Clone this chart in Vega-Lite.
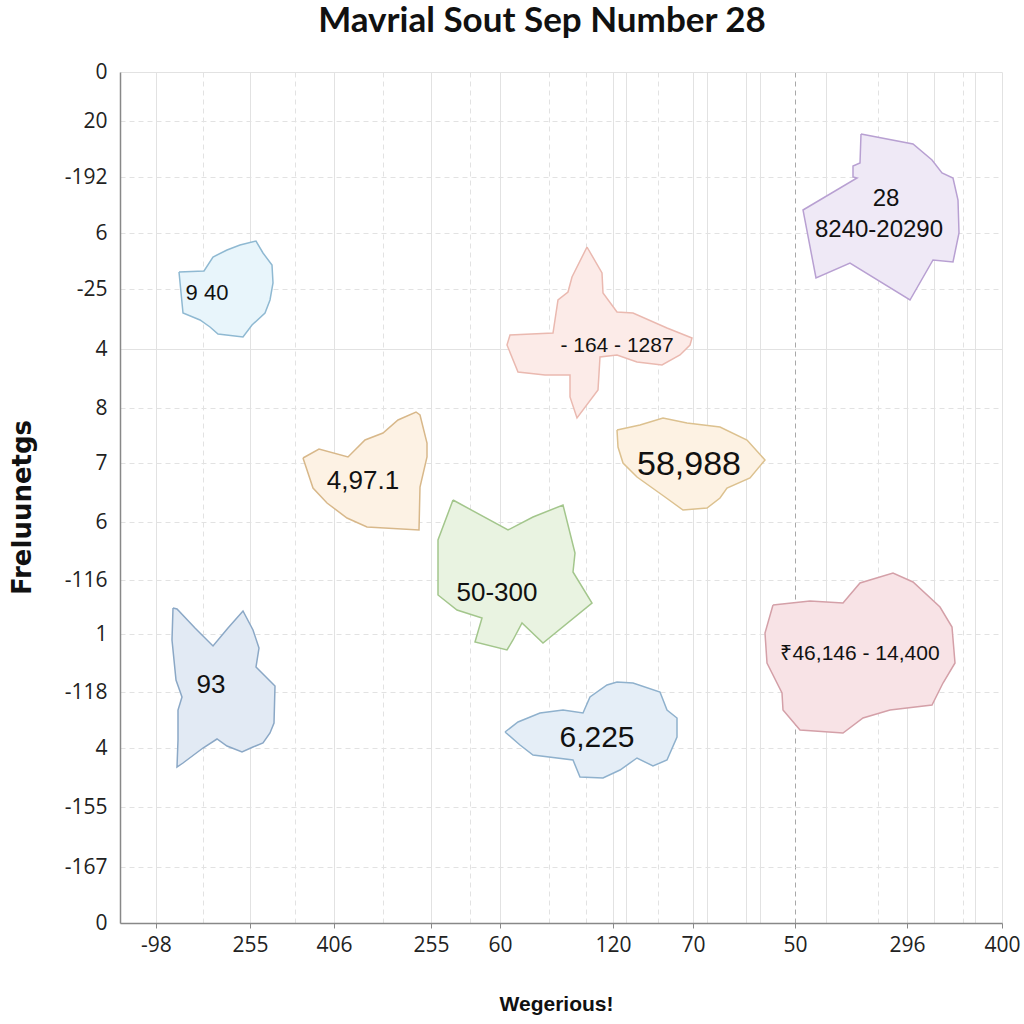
{
"$schema":"https://vega.github.io/schema/vega-lite/v6.json",
"width":882,"height":851,
"autosize":{"type":"none"},
"padding":{"left":120,"top":72,"right":22,"bottom":101},
"background":"white",
"config":{"view":{"stroke":null}},
"title":{"text":"Mavrial Sout Sep Number 28","font":"Lato","fontSize":35,"fontWeight":"bold","color":"#111","anchor":"middle","dx":-19,"offset":-6,"baseline":"alphabetic"},
"datasets":{
"poly":[
{"s":"A","i":0,"x":179,"y":272},{"s":"A","i":1,"x":204,"y":271},{"s":"A","i":2,"x":213,"y":257},{"s":"A","i":3,"x":227,"y":250},{"s":"A","i":4,"x":240,"y":245},{"s":"A","i":5,"x":256,"y":241},{"s":"A","i":6,"x":263,"y":253},{"s":"A","i":7,"x":272,"y":265},{"s":"A","i":8,"x":273,"y":283},{"s":"A","i":9,"x":270,"y":300},{"s":"A","i":10,"x":265,"y":313},{"s":"A","i":11,"x":252,"y":325},{"s":"A","i":12,"x":243,"y":337},{"s":"A","i":13,"x":218,"y":334},{"s":"A","i":14,"x":210,"y":327},{"s":"A","i":15,"x":200,"y":320},{"s":"A","i":16,"x":183,"y":313},{"s":"A","i":17,"x":179,"y":272},
{"s":"B","i":0,"x":173,"y":608},{"s":"B","i":1,"x":177,"y":609},{"s":"B","i":2,"x":195,"y":628},{"s":"B","i":3,"x":213,"y":646},{"s":"B","i":4,"x":228,"y":628},{"s":"B","i":5,"x":243,"y":611},{"s":"B","i":6,"x":253,"y":630},{"s":"B","i":7,"x":259,"y":648},{"s":"B","i":8,"x":256,"y":667},{"s":"B","i":9,"x":266,"y":677},{"s":"B","i":10,"x":275,"y":686},{"s":"B","i":11,"x":274,"y":723},{"s":"B","i":12,"x":270,"y":733},{"s":"B","i":13,"x":263,"y":743},{"s":"B","i":14,"x":253,"y":747},{"s":"B","i":15,"x":242,"y":752},{"s":"B","i":16,"x":227,"y":746},{"s":"B","i":17,"x":217,"y":739},{"s":"B","i":18,"x":203,"y":748},{"s":"B","i":19,"x":183,"y":763},{"s":"B","i":20,"x":177,"y":767},{"s":"B","i":21,"x":178,"y":740},{"s":"B","i":22,"x":178,"y":710},{"s":"B","i":23,"x":182,"y":697},{"s":"B","i":24,"x":176,"y":680},{"s":"B","i":25,"x":172,"y":640},{"s":"B","i":26,"x":173,"y":608},
{"s":"C","i":0,"x":303,"y":458},{"s":"C","i":1,"x":319,"y":449},{"s":"C","i":2,"x":348,"y":457},{"s":"C","i":3,"x":365,"y":440},{"s":"C","i":4,"x":383,"y":433},{"s":"C","i":5,"x":398,"y":420},{"s":"C","i":6,"x":416,"y":412},{"s":"C","i":7,"x":420,"y":415},{"s":"C","i":8,"x":427,"y":443},{"s":"C","i":9,"x":427,"y":457},{"s":"C","i":10,"x":420,"y":487},{"s":"C","i":11,"x":419,"y":530},{"s":"C","i":12,"x":367,"y":527},{"s":"C","i":13,"x":347,"y":518},{"s":"C","i":14,"x":327,"y":503},{"s":"C","i":15,"x":313,"y":488},{"s":"C","i":16,"x":303,"y":458},
{"s":"D","i":0,"x":453,"y":500},{"s":"D","i":1,"x":508,"y":530},{"s":"D","i":2,"x":533,"y":517},{"s":"D","i":3,"x":563,"y":505},{"s":"D","i":4,"x":575,"y":553},{"s":"D","i":5,"x":573,"y":572},{"s":"D","i":6,"x":592,"y":603},{"s":"D","i":7,"x":543,"y":643},{"s":"D","i":8,"x":522,"y":623},{"s":"D","i":9,"x":513,"y":640},{"s":"D","i":10,"x":507,"y":650},{"s":"D","i":11,"x":475,"y":642},{"s":"D","i":12,"x":482,"y":618},{"s":"D","i":13,"x":457,"y":610},{"s":"D","i":14,"x":438,"y":595},{"s":"D","i":15,"x":438,"y":540},{"s":"D","i":16,"x":453,"y":500},
{"s":"E","i":0,"x":587,"y":247},{"s":"E","i":1,"x":602,"y":273},{"s":"E","i":2,"x":603,"y":293},{"s":"E","i":3,"x":617,"y":312},{"s":"E","i":4,"x":633,"y":313},{"s":"E","i":5,"x":667,"y":328},{"s":"E","i":6,"x":692,"y":338},{"s":"E","i":7,"x":690,"y":345},{"s":"E","i":8,"x":680,"y":355},{"s":"E","i":9,"x":662,"y":365},{"s":"E","i":10,"x":637,"y":362},{"s":"E","i":11,"x":617,"y":355},{"s":"E","i":12,"x":600,"y":357},{"s":"E","i":13,"x":598,"y":390},{"s":"E","i":14,"x":577,"y":418},{"s":"E","i":15,"x":570,"y":397},{"s":"E","i":16,"x":570,"y":375},{"s":"E","i":17,"x":545,"y":375},{"s":"E","i":18,"x":518,"y":372},{"s":"E","i":19,"x":507,"y":345},{"s":"E","i":20,"x":510,"y":335},{"s":"E","i":21,"x":553,"y":333},{"s":"E","i":22,"x":558,"y":300},{"s":"E","i":23,"x":568,"y":292},{"s":"E","i":24,"x":572,"y":277},{"s":"E","i":25,"x":587,"y":247},
{"s":"F","i":0,"x":617,"y":430},{"s":"F","i":1,"x":640,"y":425},{"s":"F","i":2,"x":663,"y":418},{"s":"F","i":3,"x":687,"y":423},{"s":"F","i":4,"x":720,"y":427},{"s":"F","i":5,"x":747,"y":440},{"s":"F","i":6,"x":765,"y":460},{"s":"F","i":7,"x":750,"y":478},{"s":"F","i":8,"x":727,"y":488},{"s":"F","i":9,"x":720,"y":498},{"s":"F","i":10,"x":707,"y":508},{"s":"F","i":11,"x":683,"y":510},{"s":"F","i":12,"x":665,"y":497},{"s":"F","i":13,"x":637,"y":477},{"s":"F","i":14,"x":623,"y":463},{"s":"F","i":15,"x":618,"y":447},{"s":"F","i":16,"x":617,"y":430},
{"s":"G","i":0,"x":861,"y":134},{"s":"G","i":1,"x":913,"y":144},{"s":"G","i":2,"x":932,"y":160},{"s":"G","i":3,"x":942,"y":173},{"s":"G","i":4,"x":953,"y":178},{"s":"G","i":5,"x":958,"y":200},{"s":"G","i":6,"x":959,"y":233},{"s":"G","i":7,"x":953,"y":262},{"s":"G","i":8,"x":933,"y":260},{"s":"G","i":9,"x":910,"y":300},{"s":"G","i":10,"x":850,"y":263},{"s":"G","i":11,"x":816,"y":278},{"s":"G","i":12,"x":803,"y":210},{"s":"G","i":13,"x":857,"y":178},{"s":"G","i":14,"x":853,"y":177},{"s":"G","i":15,"x":853,"y":166},{"s":"G","i":16,"x":860,"y":163},{"s":"G","i":17,"x":861,"y":134},
{"s":"H","i":0,"x":773,"y":605},{"s":"H","i":1,"x":810,"y":601},{"s":"H","i":2,"x":843,"y":603},{"s":"H","i":3,"x":860,"y":583},{"s":"H","i":4,"x":893,"y":573},{"s":"H","i":5,"x":913,"y":582},{"s":"H","i":6,"x":940,"y":607},{"s":"H","i":7,"x":952,"y":627},{"s":"H","i":8,"x":955,"y":663},{"s":"H","i":9,"x":943,"y":683},{"s":"H","i":10,"x":932,"y":705},{"s":"H","i":11,"x":890,"y":710},{"s":"H","i":12,"x":863,"y":718},{"s":"H","i":13,"x":843,"y":733},{"s":"H","i":14,"x":800,"y":730},{"s":"H","i":15,"x":783,"y":710},{"s":"H","i":16,"x":782,"y":693},{"s":"H","i":17,"x":767,"y":663},{"s":"H","i":18,"x":765,"y":633},{"s":"H","i":19,"x":773,"y":605},
{"s":"I","i":0,"x":505,"y":732},{"s":"I","i":1,"x":518,"y":722},{"s":"I","i":2,"x":540,"y":713},{"s":"I","i":3,"x":563,"y":710},{"s":"I","i":4,"x":583,"y":713},{"s":"I","i":5,"x":590,"y":697},{"s":"I","i":6,"x":607,"y":685},{"s":"I","i":7,"x":617,"y":682},{"s":"I","i":8,"x":633,"y":683},{"s":"I","i":9,"x":660,"y":692},{"s":"I","i":10,"x":667,"y":710},{"s":"I","i":11,"x":677,"y":718},{"s":"I","i":12,"x":677,"y":737},{"s":"I","i":13,"x":667,"y":760},{"s":"I","i":14,"x":653,"y":766},{"s":"I","i":15,"x":637,"y":758},{"s":"I","i":16,"x":620,"y":770},{"s":"I","i":17,"x":603,"y":778},{"s":"I","i":18,"x":580,"y":777},{"s":"I","i":19,"x":573,"y":760},{"s":"I","i":20,"x":533,"y":755},{"s":"I","i":21,"x":520,"y":745},{"s":"I","i":22,"x":505,"y":732}
],
"labels":[
{"s":"A","t":"9 40","x":207,"y":300},
{"s":"B","t":"93","x":211,"y":693},
{"s":"C","t":"4,97.1","x":363,"y":489},
{"s":"D","t":"50-300","x":497,"y":601},
{"s":"E","t":"- 164 - 1287","x":617,"y":352},
{"s":"F","t":"58,988","x":689,"y":475},
{"s":"G","t":"28","x":886,"y":206},
{"s":"G","t":"8240-20290","x":879,"y":237},
{"s":"H","t":"₹46,146 - 14,400","x":860,"y":660},
{"s":"I","t":"6,225","x":597,"y":747}
]},
"encoding":{
"x":{"field":"x","type":"quantitative","scale":{"domain":[120,1002],"nice":false,"zero":false},
 "axis":{"values":[156,203,250,295,334,383,431,470,500,549,586,613,626,658,693,707,746,760,795,826,878,907,934,963,975,1002],
 "labelExpr":"indexof([156,250,334,431,500,613,693,795,907,1002], datum.value) >= 0 ? ['-98','255','406','255','60','120','70','50','296','400'][indexof([156,250,334,431,500,613,693,795,907,1002], datum.value)] : ''",
 "labelFont":"Open Sans","labelFontSize":21,"labelColor":"#222","labelPadding":6,"labelOverlap":false,"labelFlush":false,"labelBound":false,
 "tickSize":5,"tickColor":"#888","tickWidth":1,
 "tickOpacity":{"condition":{"test":"indexof([156,250,334,431,500,613,693,795,907,1002], datum.value) < 0","value":0},"value":1},
 "domainColor":"#888","domainWidth":1.5,
 "grid":true,
 "gridColor":{"condition":{"test":"datum.value == 795","value":"#a8a8a8"},"value":"#e2e2e2"},
 "gridDash":{"condition":{"test":"indexof([203,295,383,470,549,586,658,795,878,963], datum.value) >= 0","value":[5,4]},"value":[]},
 "title":"Wegerious!","titleFont":"Liberation Sans","titleFontSize":21,"titleFontWeight":"bold","titleColor":"#111","titleX":436,"titleY":87,"titleBaseline":"alphabetic","titleAlign":"center"}},
"y":{"field":"y","type":"quantitative","scale":{"domain":[72,923],"reverse":true,"nice":false,"zero":false},
 "axis":{"values":[72,121,177,233,289,349,408,463,522,580,634,692,748,807,867,923],
 "labelExpr":"['0','20','-192','6','-25','4','8','7','6','-116','1','-118','4','-155','-167','0'][indexof([72,121,177,233,289,349,408,463,522,580,634,692,748,807,867,923], datum.value)]",
 "labelFont":"Open Sans","labelFontSize":21,"labelColor":"#222","labelPadding":13,"labelOverlap":false,"labelFlush":false,"labelBound":false,
 "ticks":false,"tickSize":0,
 "domainColor":"#888","domainWidth":1.5,
 "grid":true,"gridColor":"#e2e2e2",
 "gridDash":{"condition":{"test":"datum.value == 72 || datum.value == 349","value":[]},"value":[5,4]},
 "title":"Freluunetgs","titleFont":"DejaVu Sans","titleFontSize":26,"titleFontWeight":"bold","titleColor":"#111","titleX":-90,"titleY":435,"titleBaseline":"alphabetic","titleAlign":"center","titleAngle":-90}}
},
"layer":[
{"data":{"name":"poly"},"mark":{"type":"line","strokeWidth":1.5,"interpolate":"linear"},
 "encoding":{"detail":{"field":"s"},"order":{"field":"i","type":"quantitative"},
 "fill":{"field":"s","type":"nominal","scale":{"domain":["A","B","C","D","E","F","G","H","I"],"range":["#e8f5fb","#e2eaf4","#fdf2e4","#e9f3e1","#fcebe8","#fdf2e3","#efe9f6","#f8e3e6","#e5eef7"]},"legend":null},
 "stroke":{"field":"s","type":"nominal","scale":{"domain":["A","B","C","D","E","F","G","H","I"],"range":["#8fb9d2","#8ba8c6","#d8b88a","#a3c68c","#eab9b0","#dcc18f","#b8a0d2","#d4a0a8","#8fb1cd"]},"legend":null}}},
{"data":{"name":"labels"},"transform":[{"filter":{"field":"s","oneOf":["E","H"]}}],"mark":{"type":"text","font":"Liberation Sans","fontSize":21,"color":"#111","align":"center","baseline":"alphabetic"},"encoding":{"text":{"field":"t"}}},
{"data":{"name":"labels"},"transform":[{"filter":{"field":"s","oneOf":["A"]}}],"mark":{"type":"text","font":"Liberation Sans","fontSize":22,"color":"#111","align":"center","baseline":"alphabetic"},"encoding":{"text":{"field":"t"}}},
{"data":{"name":"labels"},"transform":[{"filter":{"field":"s","oneOf":["G"]}}],"mark":{"type":"text","font":"Liberation Sans","fontSize":24,"color":"#111","align":"center","baseline":"alphabetic"},"encoding":{"text":{"field":"t"}}},
{"data":{"name":"labels"},"transform":[{"filter":{"field":"s","oneOf":["B","C","D"]}}],"mark":{"type":"text","font":"Liberation Sans","fontSize":26,"color":"#111","align":"center","baseline":"alphabetic"},"encoding":{"text":{"field":"t"}}},
{"data":{"name":"labels"},"transform":[{"filter":{"field":"s","oneOf":["I"]}}],"mark":{"type":"text","font":"Liberation Sans","fontSize":30,"color":"#111","align":"center","baseline":"alphabetic"},"encoding":{"text":{"field":"t"}}},
{"data":{"name":"labels"},"transform":[{"filter":{"field":"s","oneOf":["F"]}}],"mark":{"type":"text","font":"Liberation Sans","fontSize":34,"color":"#111","align":"center","baseline":"alphabetic"},"encoding":{"text":{"field":"t"}}}
]
}
